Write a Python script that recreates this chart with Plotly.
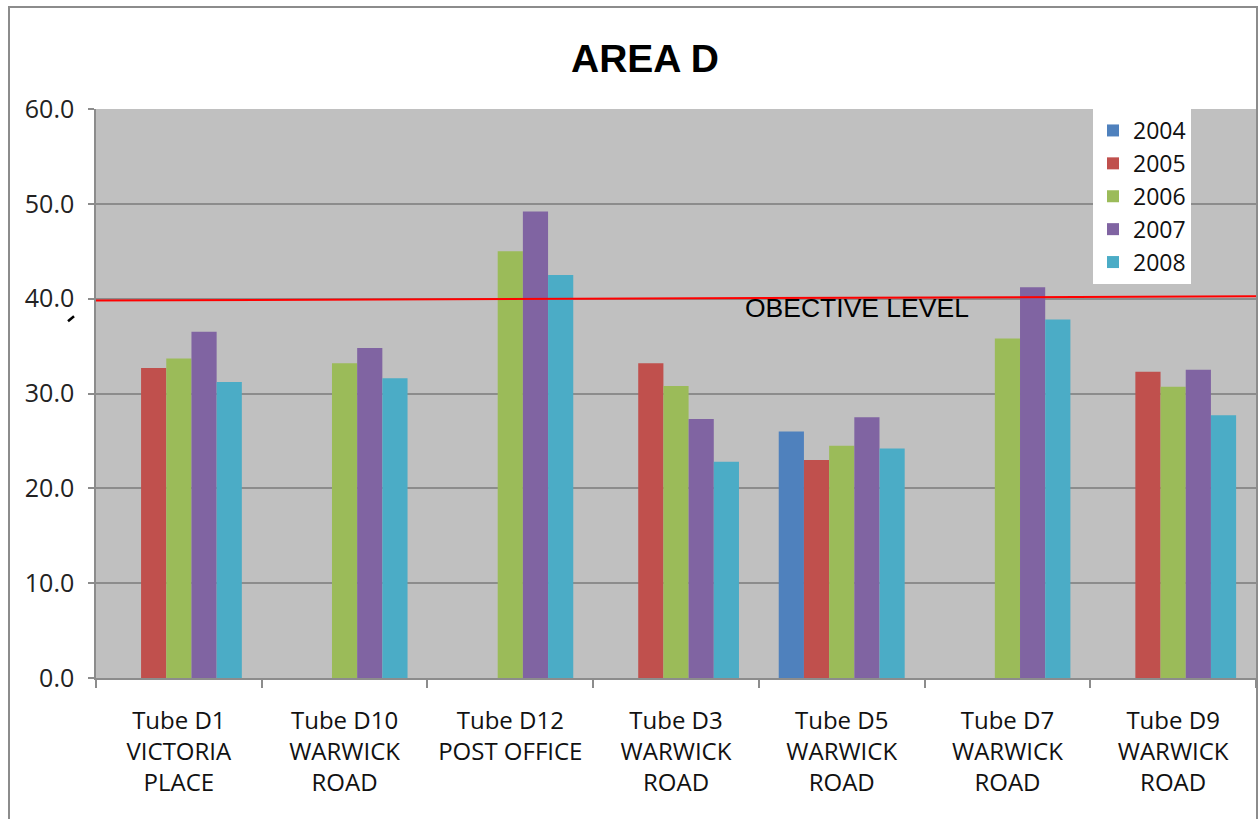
import plotly.graph_objects as go

# tube locations (category axis)
sites = ["Tube D1<br>VICTORIA<br>PLACE", "Tube D10<br>WARWICK<br>ROAD",
         "Tube D12<br>POST OFFICE", "Tube D3<br>WARWICK<br>ROAD",
         "Tube D5<br>WARWICK<br>ROAD", "Tube D7<br>WARWICK<br>ROAD",
         "Tube D9<br>WARWICK<br>ROAD"]

# annual means, None where there was no tube that year
y2004 = [None, None, None, None, 26.0, None, None]
y2005 = [32.7, None, None, 33.2, 23.0, None, 32.3]
y2006 = [33.7, 33.2, 45.0, 30.8, 24.5, 35.8, 30.7]
y2007 = [36.5, 34.8, 49.2, 27.3, 27.5, 41.2, 32.5]
y2008 = [31.2, 31.6, 42.5, 22.8, 24.2, 37.8, 27.7]

years = ["2004", "2005", "2006", "2007", "2008"]
series = [y2004, y2005, y2006, y2007, y2008]
colors = ["#4F81BD", "#C0504D", "#9BBB59", "#8064A2", "#4BACC6"]

objective = [39.8, 40.25]  # hand-drawn red line, left end / right end

grey = "#8c8c8c"

data = [go.Bar(x=sites, y=s, name=yr, marker=dict(color=c, line=dict(width=0)))
        for yr, s, c in zip(years, series, colors)]

layout = go.Layout(
    width=1260, height=819,
    margin=dict(l=96, r=4, t=109, b=141),
    paper_bgcolor="white",
    plot_bgcolor="#C0C0C0",
    barmode="group", bargap=0.24, bargroupgap=0,
    title=dict(text="<b>AREA D</b>", x=645/1260, xanchor="center",
               y=1-58/819, yanchor="middle",
               font=dict(family="Liberation Sans", size=39, color="black")),
    font=dict(family="Open Sans", color="black"),
    xaxis=dict(showgrid=False, zeroline=False, showline=True, linecolor=grey,
               linewidth=1.5, ticks="outside", tickson="boundaries", ticklen=8,
               tickcolor=grey, tickwidth=1.5, ticklabelstandoff=20,
               tickfont=dict(family="Open Sans", size=24, color="#111")),
    yaxis=dict(range=[0, 60], tickvals=[0, 10, 20, 30, 40, 50, 60], tickformat=".1f",
               showgrid=True, gridcolor=grey, gridwidth=1.5, zeroline=False,
               showline=True, linecolor=grey, linewidth=1.5, ticks="outside",
               ticklen=6, tickcolor=grey, tickwidth=1.5, ticklabelstandoff=9,
               tickfont=dict(family="Open Sans", size=25, color="#222")),
    legend=dict(x=(1093-96)/1160, y=1, xanchor="left", yanchor="top",
                bgcolor="white", borderwidth=0, itemwidth=30,
                font=dict(family="Open Sans", size=23, color="#111"),
                tracegroupgap=0),
    shapes=[
        dict(type="line", xref="paper", yref="y", x0=0, x1=1,
             y0=objective[0], y1=objective[1], line=dict(color="#FF0000", width=2)),
        dict(type="rect", xref="paper", yref="paper", x0=(9-96)/1160, x1=(1257-96)/1160,
             y0=-0.4, y1=(678.3-6)/570, line=dict(color=grey, width=2), layer="below"),
        # small stray pen stroke under the 40.0 label
        dict(type="line", xref="paper", yref="paper", x0=(68-96)/1160, x1=(74-96)/1160,
             y0=(678.3-321)/570, y1=(678.3-316)/570, line=dict(color="black", width=2.5)),
    ],
    annotations=[
        dict(text="OBECTIVE LEVEL", xref="paper", yref="y", x=(857-96)/1160, y=39.0,
             showarrow=False, xanchor="center", yanchor="middle",
             font=dict(family="Liberation Sans", size=26.5, color="black")),
    ],
)

fig = go.Figure(data=data, layout=layout)
# drop the page's default 8px body margin so the chart sits at the window origin
fig.write_html("out.html", config={"displayModeBar": False},
               post_script="document.body.style.margin='0';")
